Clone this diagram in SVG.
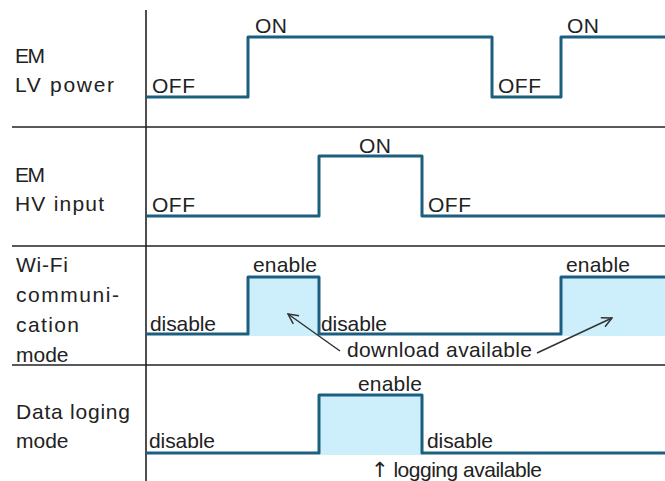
<svg xmlns="http://www.w3.org/2000/svg" width="665" height="481" viewBox="0 0 665 481">
<style>
text{font-family:"Liberation Sans","DejaVu Sans",Arial,sans-serif;font-size:21px;fill:#222}
.grid{stroke:#222;stroke-width:1.6;fill:none}
.wave{stroke:#1b5e80;stroke-width:3;fill:none;stroke-linejoin:round}
.fill{fill:#cdeefb;stroke:none}
.arr{stroke:#333;stroke-width:1.5;fill:none}
.sym{font-family:"DejaVu Sans",sans-serif}
</style>
<defs>
<marker id="ah" viewBox="0 0 12 12" refX="11" refY="6" markerWidth="12" markerHeight="12" markerUnits="userSpaceOnUse" orient="auto">
<path d="M1,1 L11,6 L1,11" fill="none" stroke="#333" stroke-width="1.5"/>
</marker>
</defs>
<rect width="665" height="481" fill="#fff"/>
<g id="grid">
<line class="grid" x1="146" y1="10" x2="146" y2="481"/>
<line class="grid" x1="12" y1="127" x2="665" y2="127"/>
<line class="grid" x1="12" y1="246" x2="665" y2="246"/>
<line class="grid" x1="12" y1="365" x2="665" y2="365"/>
</g>
<g id="lv-power">
<text x="15" y="63" textLength="30">EM</text>
<text x="15" y="92" textLength="99">LV power</text>
<polyline class="wave" points="146,97 248,97 248,37 492,37 492,97 561,97 561,37 665,37"/>
<text x="255" y="33" textLength="32">ON</text>
<text x="152" y="93" textLength="43">OFF</text>
<text x="498" y="93" textLength="43">OFF</text>
<text x="567" y="33" textLength="32">ON</text>
</g>
<g id="hv-input">
<text x="15" y="182" textLength="30">EM</text>
<text x="15" y="211" textLength="89">HV input</text>
<polyline class="wave" points="146,216 319,216 319,156 422,156 422,216 665,216"/>
<text x="359" y="153" textLength="32">ON</text>
<text x="152" y="212" textLength="43">OFF</text>
<text x="428" y="212" textLength="43">OFF</text>
</g>
<g id="wifi-mode">
<rect class="fill" x="248" y="277" width="71" height="59"/>
<rect class="fill" x="561" y="277" width="104" height="59"/>
<text x="16" y="272" textLength="52">Wi-Fi</text>
<text x="16" y="302" textLength="103">communi-</text>
<text x="16" y="332" textLength="63">cation</text>
<text x="16" y="362">mode</text>
<polyline class="wave" points="146,334 248,334 248,277 319,277 319,334 561,334 561,277 665,277"/>
<text x="253" y="272" textLength="64">enable</text>
<text x="150" y="331" textLength="66">disable</text>
<text x="321" y="331" textLength="66">disable</text>
<text x="566" y="272" textLength="64">enable</text>
<text x="347" y="357" textLength="185">download available</text>
</g>
<g id="logging-mode">
<rect class="fill" x="319" y="395" width="103" height="60"/>
<text x="16" y="419" textLength="114">Data loging</text>
<text x="16" y="448">mode</text>
<polyline class="wave" points="146,453 319,453 319,395 422,395 422,453 665,453"/>
<text x="358" y="391" textLength="64">enable</text>
<text x="149" y="448" textLength="66">disable</text>
<text x="427" y="448" textLength="66">disable</text>
<text x="371" y="477" textLength="171"><tspan class="sym">↑</tspan> logging available</text>
</g>
<g id="connectors">
<line class="arr" x1="340" y1="351" x2="288" y2="314" marker-end="url(#ah)"/>
<line class="arr" x1="537" y1="353" x2="612" y2="318" marker-end="url(#ah)"/>
</g>
</svg>
